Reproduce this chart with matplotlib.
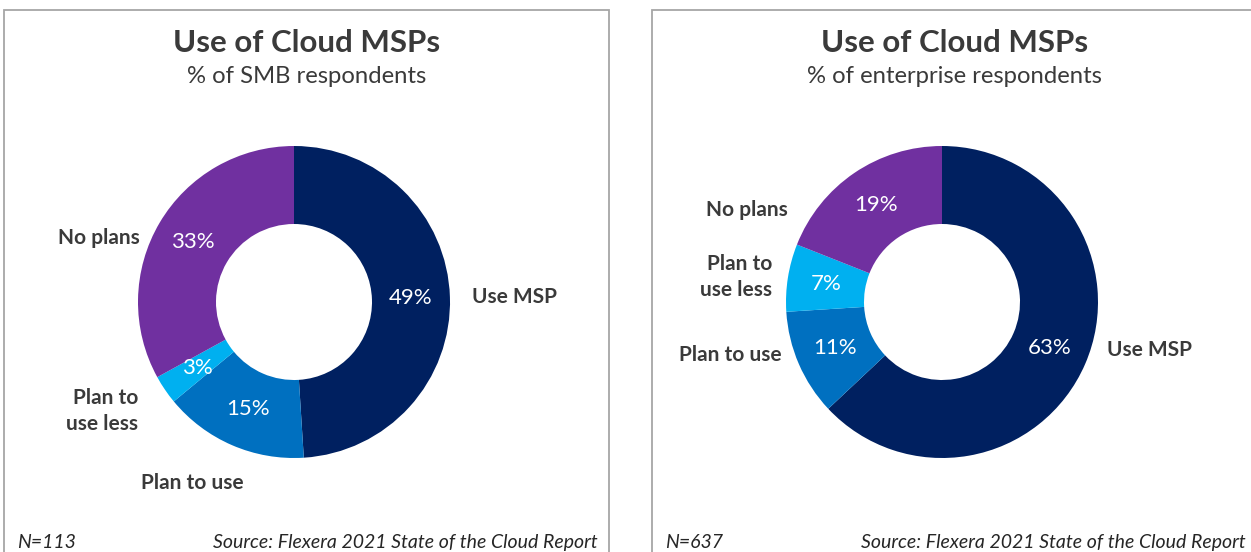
import matplotlib.pyplot as plt
from matplotlib.patches import Rectangle

plt.rcParams['font.family'] = ['Lato', 'DejaVu Sans']

W, H = 1251, 552

categories = ['Use MSP', 'Plan to use', 'Plan to\nuse less', 'No plans']
smb_values = [49, 15, 3, 33]
ent_values = [63, 11, 7, 19]
colors = ['#002060', '#0070C0', '#00B0F0', '#7030A0']
txt = '#3a3a3a'

panels = [
    dict(values=smb_values, subtitle='% of SMB respondents', n='N=113',
         box_x=4, center=(294, 302),
         label_pos=[(1.14, 0.03, 'left'), (-0.65, -1.16, 'center'),
                    (-1.0, -0.70, 'right'), (-0.99, 0.41, 'right')]),
    dict(values=ent_values, subtitle='% of enterprise respondents', n='N=637',
         box_x=652, center=(942, 302),
         label_pos=[(1.06, -0.31, 'left'), (-1.03, -0.34, 'right'),
                    (-1.09, 0.16, 'right'), (-0.99, 0.59, 'right')]),
]

fig = plt.figure(figsize=(W / 100, H / 100), dpi=100)

radius_px = 156
box_w = 605

for p in panels:
    bx = p['box_x']
    fig.add_artist(Rectangle((bx / W, -0.1), box_w / W, (H - 10) / H + 0.1,
                             transform=fig.transFigure, fill=False,
                             edgecolor='#a6a6a6', lw=1.3))
    mid = (bx + box_w / 2) / W
    fig.text(mid, 1 - 52 / H, 'Use of Cloud MSPs', ha='center', va='baseline',
             fontsize=22.5, fontweight='bold', color=txt)
    fig.text(mid, 1 - 83 / H, p['subtitle'], ha='center', va='baseline',
             fontsize=17.2, color=txt)
    fig.text((bx + 13) / W, 1 - 548 / H, p['n'], ha='left', va='baseline',
             fontsize=14, style='italic', color='#262626')
    fig.text((bx + 594) / W, 1 - 548 / H, 'Source: Flexera 2021 State of the Cloud Report',
             ha='right', va='baseline', fontsize=14, style='italic', color='#262626')

    cx, cy = p['center']
    half = 1.5 * radius_px
    ax = fig.add_axes([(cx - half) / W, (H - cy - half) / H, 2 * half / W, 2 * half / H])
    wedges, _, autotexts = ax.pie(p['values'], colors=colors, startangle=90,
                                  counterclock=False, autopct='%d%%', pctdistance=0.75,
                                  wedgeprops=dict(width=0.5, edgecolor='none'),
                                  textprops=dict(color='white', fontsize=16))
    ax.set_xlim(-1.5, 1.5)
    ax.set_ylim(-1.5, 1.5)
    ax.axis('off')
    for (x, y, ha), lab in zip(p['label_pos'], categories):
        ax.text(x, y, lab, ha=ha, va='center', multialignment=ha,
                fontsize=15, fontweight='bold', color=txt, linespacing=1.4)

fig.savefig('out.png', dpi=100)
